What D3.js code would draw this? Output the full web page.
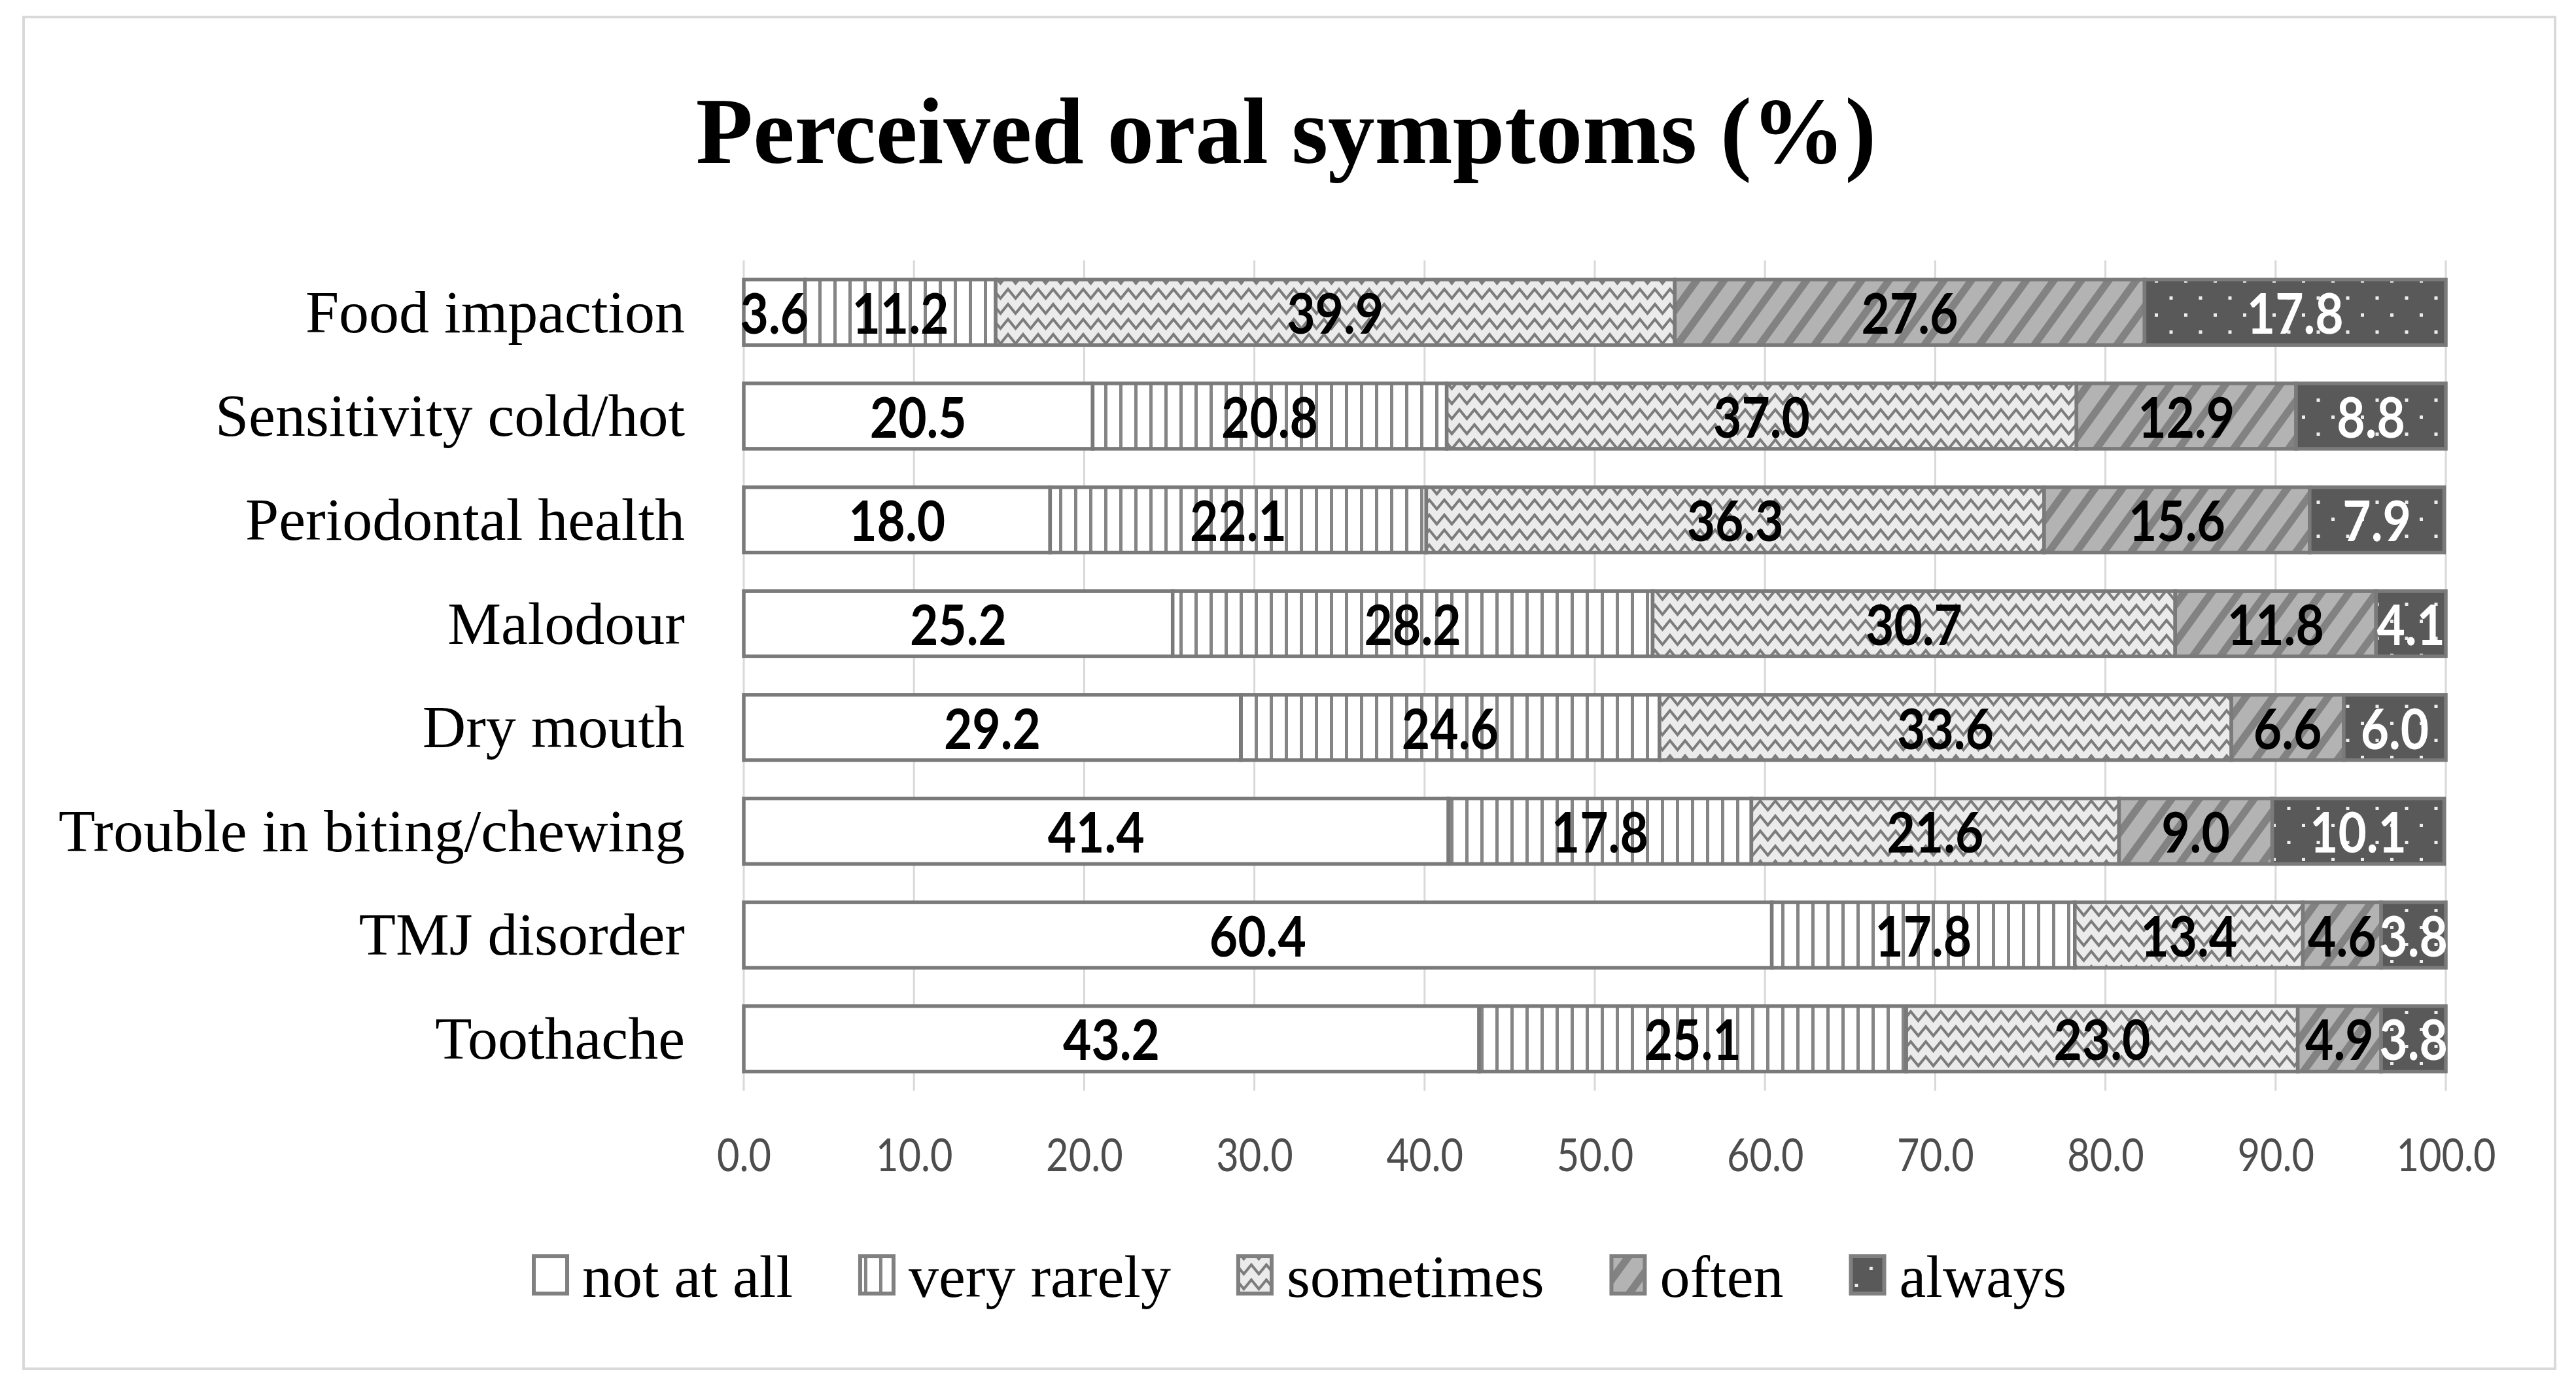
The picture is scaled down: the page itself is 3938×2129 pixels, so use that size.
<!DOCTYPE html>
<html>
<head>
<meta charset="utf-8">
<script src="https://cdn.jsdelivr.net/npm/d3@7"></script>
<style>
  html, body { margin: 0; padding: 0; background: #ffffff; }
  svg { display: block; }
</style>
</head>
<body>
<script>
// ---------------- DATA ----------------
const categories = ["Food impaction", "Sensitivity cold/hot", "Periodontal health", "Malodour",
                    "Dry mouth", "Trouble in biting/chewing", "TMJ disorder", "Toothache"];
const seriesNames = ["not at all", "very rarely", "sometimes", "often", "always"];
const notAtAll   = [3.6, 20.5, 18.0, 25.2, 29.2, 41.4, 60.4, 43.2];
const veryRarely = [11.2, 20.8, 22.1, 28.2, 24.6, 17.8, 17.8, 25.1];
const sometimes  = [39.9, 37.0, 36.3, 30.7, 33.6, 21.6, 13.4, 23.0];
const often      = [27.6, 12.9, 15.6, 11.8, 6.6, 9.0, 4.6, 4.9];
const always     = [17.8, 8.8, 7.9, 4.1, 6.0, 10.1, 3.8, 3.8];
const tickValues = [0, 10, 20, 30, 40, 50, 60, 70, 80, 90, 100];
const titleText = "Perceived oral symptoms (%)";

// ---------------- SETUP ----------------
const W = 3938, H = 2129;
const svg = d3.select("body").append("svg").attr("width", W).attr("height", H);
const defs = svg.append("defs");

// patterns
const pVR = defs.append("pattern").attr("id", "p0").attr("patternUnits", "userSpaceOnUse")
  .attr("width", 23).attr("height", 20);
pVR.append("rect").attr("width", 23).attr("height", 20).attr("fill", "#ffffff");

const pVR2 = defs.append("pattern").attr("id", "p1").attr("patternUnits", "userSpaceOnUse")
  .attr("width", 23).attr("height", 20);
pVR2.append("rect").attr("width", 23).attr("height", 20).attr("fill", "#ffffff");
pVR2.append("rect").attr("x", 9).attr("width", 5).attr("height", 20).attr("fill", "#858585");

const pZ = defs.append("pattern").attr("id", "p2").attr("patternUnits", "userSpaceOnUse")
  .attr("width", 46).attr("height", 23);
pZ.append("rect").attr("width", 46).attr("height", 23).attr("fill", "#ebebeb");
pZ.append("path").attr("d", "M-11.5,19 L0,5 L11.5,19 L23,5 L34.5,19 L46,5 L57.5,19")
  .attr("fill", "none").attr("stroke", "#7c7c7c").attr("stroke-width", 4);

const pO = defs.append("pattern").attr("id", "p3").attr("patternUnits", "userSpaceOnUse")
  .attr("width", 42).attr("height", 42).attr("patternTransform", "skewX(-36)");
pO.append("rect").attr("width", 42).attr("height", 42).attr("fill", "#b3b3b3");
pO.append("rect").attr("x", 0).attr("width", 14).attr("height", 42).attr("fill", "#828282");

const pA = defs.append("pattern").attr("id", "p4").attr("patternUnits", "userSpaceOnUse")
  .attr("width", 45).attr("height", 52);
pA.append("rect").attr("width", 45).attr("height", 52).attr("fill", "#595959");
pA.append("rect").attr("x", 9).attr("y", 11).attr("width", 5).attr("height", 5).attr("fill", "#ededed");
pA.append("rect").attr("x", 31.5).attr("y", 37).attr("width", 5).attr("height", 5).attr("fill", "#ededed");

const fills = ["url(#p0)", "url(#p1)", "url(#p2)", "url(#p3)", "url(#p4)"];
const labelColors = ["#000000", "#000000", "#000000", "#000000", "#ffffff"];

// outer border
svg.append("rect").attr("x", 36).attr("y", 26).attr("width", 3870).attr("height", 2066)
  .attr("fill", "#ffffff").attr("stroke", "#d9d9d9").attr("stroke-width", 4);

// title
svg.append("text").attr("x", 1966).attr("y", 249).attr("text-anchor", "middle")
  .attr("font-family", "Liberation Serif, serif").attr("font-weight", "bold")
  .attr("font-size", 143).attr("fill", "#000000").text(titleText);

// scales
const x = d3.scaleLinear().domain([0, 100]).range([1137, 3739]).clamp(true);
const y = d3.scaleBand().domain(categories).range([398, 1667]).paddingInner(0.37).paddingOuter(0.185);

// gridlines
svg.append("g").selectAll("line").data(tickValues).join("line")
  .attr("x1", d => x(d)).attr("x2", d => x(d))
  .attr("y1", 398).attr("y2", 1667)
  .attr("stroke", "#d9d9d9").attr("stroke-width", 3);

// x axis tick labels
const xAxis = d3.axisBottom(x).tickValues(tickValues).tickFormat(d3.format(".1f")).tickSize(0).tickPadding(0);
const gx = svg.append("g").attr("transform", "translate(0,1790)").call(xAxis);
gx.select(".domain").remove();
gx.selectAll("text")
  .attr("y", 0).attr("dy", 0)
  .attr("font-family", "Lato, sans-serif").attr("font-size", 70).attr("fill", "#4d4d4d")
  .attr("transform", "scale(0.85,1)");

// stacked data
const seriesValues = [notAtAll, veryRarely, sometimes, often, always];
const rows = categories.map((c, i) => {
  const o = { cat: c };
  seriesNames.forEach((s, k) => o[s] = seriesValues[k][i]);
  return o;
});
const stack = d3.stack().keys(seriesNames);
const stacked = stack(rows);

const gBars = svg.append("g");
stacked.forEach((layer, k) => {
  const g = gBars.append("g");
  g.selectAll("rect").data(layer).join("rect")
    .attr("x", d => x(d[0]))
    .attr("width", d => Math.max(0, x(d[1]) - x(d[0])))
    .attr("y", d => y(d.data.cat))
    .attr("height", y.bandwidth())
    .attr("fill", fills[k])
    .attr("stroke", "#7a7a7a").attr("stroke-width", 5.5);
});

// data labels
stacked.forEach((layer, k) => {
  const g = gBars.append("g");
  g.selectAll("text").data(layer).join("text")
    .attr("transform", d => `translate(${(x(d[0]) + x(Math.min(d[1], 100))) / 2},${y(d.data.cat) + y.bandwidth() / 2}) scale(0.87,1)`)
    .attr("text-anchor", "middle").attr("dy", "0.38em")
    .attr("font-family", "Lato, sans-serif").attr("font-weight", "bold").attr("font-size", 86)
    .attr("fill", labelColors[k])
    .text(d => d3.format(".1f")(d[1] - d[0]));
});

// category labels
svg.append("g").selectAll("text").data(categories).join("text")
  .attr("x", 1047).attr("y", d => y(d) + y.bandwidth() / 2).attr("dy", "0.33em")
  .attr("text-anchor", "end")
  .attr("font-family", "Liberation Serif, serif").attr("font-size", 92).attr("fill", "#000000")
  .text(d => d);

// legend
const gLeg = svg.append("g");
let cx = 0;
const items = [];
seriesNames.forEach((s, k) => {
  const it = gLeg.append("g");
  it.append("rect").attr("x", 3).attr("y", -31).attr("width", 51).attr("height", 57)
    .attr("fill", fills[k]).attr("stroke", "#808080").attr("stroke-width", 6);
  const t = it.append("text").attr("x", 77).attr("y", 31)
    .attr("font-family", "Liberation Serif, serif").attr("font-size", 92).attr("fill", "#000000").text(s);
  const tw = t.node().getComputedTextLength();
  items.push({ g: it, x: cx });
  cx += 77 + tw + 100;
});
const totalW = cx - 100;
const startX = 1986 - totalW / 2;
items.forEach(it => it.g.attr("transform", `translate(${startX + it.x},1951)`));
</script>
</body>
</html>
